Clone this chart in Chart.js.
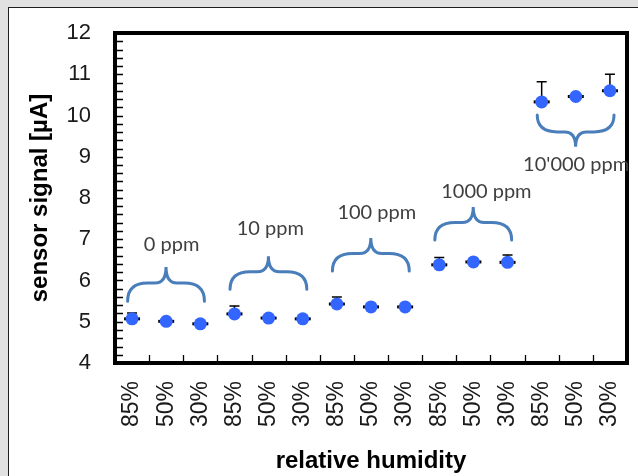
<!DOCTYPE html>
<html>
<head>
<meta charset="utf-8">
<script src="https://cdn.jsdelivr.net/npm/chart.js@4.4.1/dist/chart.umd.min.js"></script>
<style>
  html, body { margin: 0; padding: 0; background: #e1e1e1; overflow: hidden; }
  #panel { position: absolute; left: 8px; top: 7px; width: 629px; height: 468px; background: #fff;
           border-left: 1px solid #1e1e1e; border-top: 1px solid #1e1e1e; }
  #wrap { position: absolute; left: 0; top: 0; width: 638px; height: 476px; }
</style>
</head>
<body>
<div id="panel"></div>
<div id="wrap"><canvas id="chart"></canvas></div>
<script>
// relative humidity per measurement, 3 per concentration
const humidity = ['85%', '50%', '30%', '85%', '50%', '30%', '85%', '50%', '30%',
                  '85%', '50%', '30%', '85%', '50%', '30%'];
// sensor signal [µA] and upper error
const signal = [5.07, 5.01, 4.95, 5.19, 5.09, 5.07, 5.43, 5.36, 5.36,
                6.38, 6.45, 6.44, 10.33, 10.46, 10.60];
const errUp = [0.14, 0.04, 0.04, 0.19, 0.04, 0.04, 0.17, 0.04, 0.04,
               0.18, 0.04, 0.18, 0.49, 0.04, 0.40];

// concentration groups with their braces (values in µA)
const groups = ['0 ppm', '10 ppm', '100 ppm', '1000 ppm', "10'000 ppm"];
const braceBase = [5.50, 5.79, 6.23, 6.98, 10.01];
const braceTip = [6.33, 6.59, 7.03, 7.78, 9.24];
const labelY = [6.86, 7.27, 7.64, 8.15, 8.80];
const labelIdx = [1.16, 4.05, 7.17, 10.38, 13.01];

const yMin = 4, yMax = 12;

// frame + inward ticks + error bars
const framePlugin = {
    id: 'frame',
    beforeDatasetsDraw(chart) {
        const ctx = chart.ctx, a = chart.chartArea;
        const x = chart.scales.x, y = chart.scales.y;
        ctx.save();
        ctx.strokeStyle = '#000';
        ctx.lineWidth = 1.3;
        ctx.beginPath();
        for (let v = yMin; v <= yMax + 1e-6; v += 0.2) {
            const py = Math.round(y.getPixelForValue(v)) + 0.5;
            ctx.moveTo(a.left, py);
            ctx.lineTo(a.left + 8, py);
        }
        for (let i = 1; i < humidity.length; i++) {
            const px = Math.round(x.getPixelForValue(i - 0.5)) + 0.5;
            ctx.moveTo(px, a.bottom);
            ctx.lineTo(px, a.bottom - 8);
        }
        ctx.stroke();
        ctx.lineWidth = 4;
        ctx.strokeRect(a.left, a.top, a.right - a.left, a.bottom - a.top);

        // error bars
        ctx.lineWidth = 1.5;
        ctx.beginPath();
        signal.forEach((v, i) => {
            const px = x.getPixelForValue(i);
            const p0 = y.getPixelForValue(v);
            const p1 = y.getPixelForValue(v + errUp[i]);
            ctx.moveTo(px, p0);
            ctx.lineTo(px, p1);
            ctx.moveTo(px - 5, p1);
            ctx.lineTo(px + 5, p1);
        });
        ctx.stroke();
        ctx.restore();
    },
    afterDatasetsDraw(chart) {
        const ctx = chart.ctx;
        const x = chart.scales.x, y = chart.scales.y;
        ctx.save();
        ctx.strokeStyle = '#4a7ebb';
        ctx.lineWidth = 3;
        ctx.lineCap = 'round';
        groups.forEach((g, k) => {
            const x0 = x.getPixelForValue(k * 3 - 0.13);
            const x1 = x.getPixelForValue(k * 3 + 2.12);
            const yEnd = y.getPixelForValue(braceBase[k]);
            const yTip = y.getPixelForValue(braceTip[k]);
            const yFlat = yEnd + (yTip - yEnd) * 0.53;
            const xc = (x0 + x1) / 2;
            ctx.beginPath();
            ctx.moveTo(x0, yEnd);
            ctx.quadraticCurveTo(x0, yFlat, x0 + 20, yFlat);
            ctx.lineTo(xc - 11, yFlat);
            ctx.quadraticCurveTo(xc, yFlat, xc, yTip);
            ctx.quadraticCurveTo(xc, yFlat, xc + 11, yFlat);
            ctx.lineTo(x1 - 20, yFlat);
            ctx.quadraticCurveTo(x1, yFlat, x1, yEnd);
            ctx.stroke();

            ctx.fillStyle = '#3f3f3f';
            ctx.font = '20px Lato, "Open Sans", sans-serif';
            ctx.textAlign = 'center';
            ctx.textBaseline = 'middle';
            ctx.fillText(g, x.getPixelForValue(labelIdx[k]), y.getPixelForValue(labelY[k]));
        });
        ctx.restore();
    }
};

const ctx = document.getElementById('chart').getContext('2d');
new Chart(ctx, {
    type: 'line',
    data: {
        labels: humidity,
        datasets: [{
            data: signal,
            showLine: false,
            pointStyle: 'circle',
            pointRadius: 6.5,
            pointBackgroundColor: '#3366ff',
            pointBorderWidth: 0
        }, {
            data: signal,
            showLine: false,
            pointStyle: 'line',
            pointRadius: 8,
            pointBorderColor: '#000',
            pointBorderWidth: 3
        }]
    },
    options: {
        responsive: true,
        maintainAspectRatio: false,
        animation: false,
        layout: { padding: { left: 22, top: 33, right: 9, bottom: 0 } },
        plugins: { legend: { display: false }, tooltip: { enabled: false } },
        scales: {
            x: {
                offset: true,
                grid: { display: false, drawTicks: false },
                border: { display: false },
                ticks: {
                    autoSkip: false, maxRotation: 90, minRotation: 90, padding: 18,
                    color: '#1a1a1a', font: { family: '"Liberation Sans", Arial', size: 23 }
                },
                title: {
                    display: true, text: 'relative humidity', color: '#000',
                    font: { family: '"Liberation Sans", Arial', size: 24, weight: 'bold' },
                    padding: { top: 0, bottom: 0 }
                },
                afterFit(s) { s.height = 113; s.paddingLeft = 0; s.paddingRight = 0; }
            },
            y: {
                min: yMin, max: yMax,
                grid: { display: false, drawTicks: false },
                border: { display: false },
                ticks: {
                    stepSize: 1, padding: 24,
                    color: '#1a1a1a', font: { family: '"Liberation Sans", Arial', size: 22 }
                },
                title: {
                    display: true, text: 'sensor signal [µA]', color: '#000',
                    font: { family: '"Liberation Sans", Arial', size: 24, weight: 'bold' },
                    padding: { top: 4, bottom: 0 }
                },
                afterFit(s) { s.width = 93; s.paddingTop = 0; s.paddingBottom = 0; }
            }
        }
    },
    plugins: [framePlugin]
});
</script>
</body>
</html>
